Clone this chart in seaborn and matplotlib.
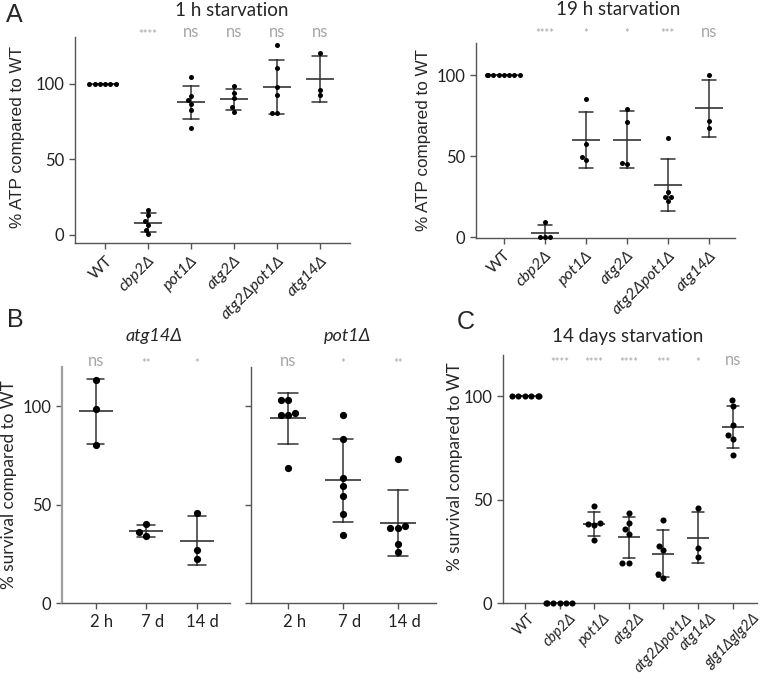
import matplotlib
matplotlib.use("Agg")
import matplotlib.pyplot as plt
import matplotlib.transforms as mtransforms
import numpy as np
import pandas as pd
import seaborn as sns

# categories
strains = ["WT", "cbp2Δ", "pot1Δ", "atg2Δ", "atg2Δpot1Δ", "atg14Δ"]
strains_c = strains + ["glg1Δglg2Δ"]
timepoints = ["2 h", "7 d", "14 d"]

# A, left: % ATP after 1 h starvation (one list per strain)
atp_1h = [
    [100, 100, 100, 100, 100, 100],
    [16.8, 13.1, 9.2, 6.6, 3.3, 0.4],
    [104.6, 92.3, 89.5, 86.9, 82.7, 71.1],
    [98.7, 94.1, 90.4, 84.7, 81.6],
    [125.8, 110.3, 97.6, 92.6, 80.5, 80.5],
    [120.4, 96.1, 92.6],
]
sig_1h = ["", "****", "ns", "ns", "ns", "ns"]

# A, right: % ATP after 19 h starvation
atp_19h = [
    [100, 100, 100, 100, 100, 100, 100, 100],
    [9.5, 0.3, 0.0, 0.0],
    [85.4, 57.6, 49.4, 47.5],
    [79.2, 70.8, 45.7, 45.1],
    [60.9, 28.0, 24.9, 24.7, 22.0],
    [99.8, 71.6, 67.1],
]
sig_19h = ["", "****", "*", "*", "***", "ns"]

# B: % survival of single mutants over time
surv_atg14 = [
    [113.3, 98.6, 80.1],
    [40.0, 36.0, 34.3],
    [45.9, 26.9, 22.3],
]
sig_atg14 = ["ns", "**", "*"]

surv_pot1 = [
    [103.2, 103.3, 96.3, 95.5, 95.5, 68.8],
    [95.3, 83.3, 63.5, 59.7, 54.2, 45.2, 34.7],
    [73.2, 39.3, 38.0, 38.0, 30.3, 26.2],
]
sig_pot1 = ["ns", "*", "**"]

# C: % survival after 14 days starvation
surv_14d = [
    [100, 100, 100, 100, 100, 100],
    [0, 0, 0, 0, 0, 0],
    [46.9, 39.0, 38.3, 37.8, 30.4],
    [43.6, 38.6, 35.9, 33.7, 19.6, 19.6],
    [40.1, 27.9, 25.8, 14.0, 12.4],
    [45.9, 26.9, 22.5],
    [98.2, 95.3, 86.2, 81.3, 79.2, 71.5],
]
sig_14d = ["", "****", "****", "****", "***", "*", "ns"]

LINE = "#333333"
SPINE = "#555555"
SIG = "#a6a6a6"

sns.set_style("ticks")
plt.rcParams["font.family"] = ["Lato", "DejaVu Sans"]


def long_df(cats, values):
    rows = [(c, v) for c, vals in zip(cats, values) for v in vals]
    return pd.DataFrame(rows, columns=["group", "value"])


def draw_panel(ax, cats, values, sig, sig_y, dot_size, mean_w, xlim, ylim):
    df = long_df(cats, values)
    # mean +/- SD
    sns.pointplot(data=df, x="group", y="value", order=cats, errorbar="sd",
                  capsize=0.35, linestyle="none", marker="_", markersize=mean_w,
                  markeredgewidth=1.2, color=LINE, err_kws={"linewidth": 1.1}, ax=ax)
    sns.swarmplot(data=df, x="group", y="value", order=cats, color="black",
                  size=dot_size, ax=ax, zorder=3, clip_on=False)
    ax.set_xlim(*xlim)
    ax.set_ylim(*ylim)
    ax.set_yticks([0, 50, 100])
    ax.set_xlabel("")
    ax.set_ylabel("")
    sns.despine(ax=ax)
    for s in ["left", "bottom"]:
        ax.spines[s].set_color(SPINE)
        ax.spines[s].set_linewidth(1.0)
    ax.tick_params(colors=SPINE, labelcolor="#222222", labelsize=12, length=4, width=1.0)
    trans = mtransforms.blended_transform_factory(ax.transData, ax.transAxes)
    for i, s in enumerate(sig):
        if not s:
            continue
        if s == "ns":
            ax.text(i, sig_y, s, transform=trans, ha="center", va="center",
                    fontsize=12, color=SIG, clip_on=False)
        else:
            ax.text(i, sig_y - 0.01, s, transform=trans, ha="center", va="center",
                    fontsize=8, color=SIG, clip_on=False)


def strain_labels(ax, cats, centered=False):
    ax.set_xticks(range(len(cats)))
    if centered:
        ax.set_xticklabels(cats, rotation=45, ha="center", fontsize=10.5)
        ax.tick_params(axis="x", pad=1.5)
    else:
        ax.set_xticklabels(cats, rotation=45, ha="right", rotation_mode="anchor",
                           fontsize=11.5)
    for lbl, c in zip(ax.get_xticklabels(), cats):
        lbl.set_style("normal" if c == "WT" else "italic")


fig = plt.figure(figsize=(7.62, 6.78), dpi=100)

# ---- A: 1 h
ax1 = fig.add_axes([0.0984, 0.6416, 0.3609, 0.3038])
draw_panel(ax1, strains, atp_1h, sig_1h, 1.024, 3.6, 20, (-0.7, 5.7), (-5.3, 131))
strain_labels(ax1, strains)
ax1.set_ylabel("% ATP compared to WT", family="Liberation Sans", fontsize=12.3)
ax1.yaxis.set_label_coords(-0.18, 0.515)
ax1.text(0.57, 1.131, "1 h starvation", transform=ax1.transAxes, ha="center",
         va="center", fontsize=13.5)

# ---- A: 19 h
ax2 = fig.add_axes([0.6247, 0.6494, 0.3399, 0.2876])
draw_panel(ax2, strains, atp_19h, sig_19h, 1.055, 3.6, 20, (-0.68, 5.64), (-0.4, 120))
strain_labels(ax2, strains)
ax2.set_ylabel("% ATP compared to WT", family="Liberation Sans", fontsize=12.3)
ax2.yaxis.set_label_coords(-0.174, 0.5)
ax2.text(0.547, 1.168, "19 h starvation", transform=ax2.transAxes, ha="center",
         va="center", fontsize=13.5)

# ---- B: atg14
ax3 = fig.add_axes([0.081, 0.1102, 0.2209, 0.349])
draw_panel(ax3, timepoints, surv_atg14, sig_atg14, 1.025, 5.2, 24, (-0.67, 2.66), (0, 120))
ax3.spines["left"].set_color("#a0a0a0")
ax3.spines["left"].set_linewidth(1.6)
ax3.set_ylabel("% survival compared to WT", fontsize=12.4)
ax3.yaxis.set_label_coords(-0.266, 0.5)
ax3.text(0.55, 1.13, "atg14Δ", transform=ax3.transAxes, ha="center", va="center",
         fontsize=13, style="italic")

# ---- B: pot1
ax4 = fig.add_axes([0.329, 0.1102, 0.2432, 0.349])
draw_panel(ax4, timepoints, surv_pot1, sig_pot1, 1.025, 5.2, 26.5, (-0.68, 2.69), (0, 120))
ax4.tick_params(axis="y", labelleft=False)
ax4.text(0.52, 1.13, "pot1Δ", transform=ax4.transAxes, ha="center", va="center",
         fontsize=13, style="italic")

shift = mtransforms.ScaledTranslation(0.06, 0, fig.dpi_scale_trans)
for ax in (ax3, ax4):
    for lbl in ax.get_xticklabels():
        lbl.set_transform(lbl.get_transform() + shift)

# ---- C: 14 days
ax5 = fig.add_axes([0.6597, 0.1102, 0.3337, 0.3662])
draw_panel(ax5, strains_c, surv_14d, sig_14d, 0.98, 4.4, 16, (-0.64, 6.7), (0, 120))
strain_labels(ax5, strains_c, centered=True)
ax5.set_ylabel("% survival compared to WT", fontsize=12.4)
ax5.yaxis.set_label_coords(-0.156, 0.55)
ax5.text(0.49, 1.076, "14 days starvation", transform=ax5.transAxes, ha="center",
         va="center", fontsize=13.5)

# panel letters
fig.text(14 / 762, 1 - 15 / 678, "A", family="Liberation Sans", fontsize=18,
         ha="center", va="center")
fig.text(15 / 762, 1 - 320 / 678, "B", family="Liberation Sans", fontsize=18,
         ha="center", va="center")
fig.text(466 / 762, 1 - 322 / 678, "C", family="Liberation Sans", fontsize=18,
         ha="center", va="center")

fig.savefig("out.png", dpi=100)
